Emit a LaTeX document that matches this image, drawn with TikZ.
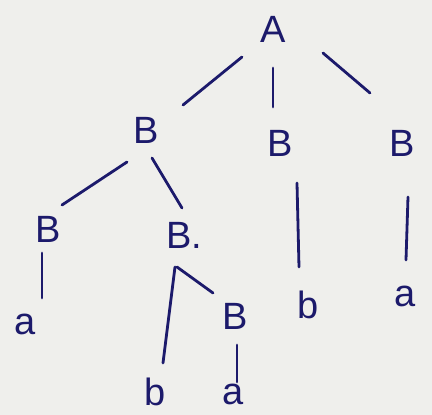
\documentclass[tikz,border=0pt]{standalone}
\usepackage{fontspec}
\setmainfont{Liberation Sans}
\usetikzlibrary{calc}
\definecolor{ink}{HTML}{1C1A6B}
\definecolor{paper}{HTML}{EFEFEC}
\begin{document}
\begin{tikzpicture}[x=1pt,y=-1pt,
  lbl/.style={text=ink,inner sep=0pt,font=\fontsize{38}{42}\selectfont},
  edge/.style={draw=ink,line width=2.8pt,line cap=round}]
\fill[paper] (0,0) rectangle (432,415);
\useasboundingbox (0,0) rectangle (432,415);
\node[lbl] (A)  at (273,29) {A};
\node[lbl] (B1) at (146,130) {B};
\node[lbl] (B2) at (280,143) {B};
\node[lbl] (B3) at (402,143) {B};
\node[lbl] (B4) at (48,229) {B};
\node[lbl] (B5) at (184,235) {B.};
\node[lbl] (a1) at (25,324) {a};
\node[lbl] (b2) at (308,305) {b};
\node[lbl] (a3) at (405,296) {a};
\node[lbl] (B6) at (235,316) {B};
\node[lbl] (b5) at (155,392) {b};
\node[lbl] (a6) at (233,394) {a};
\draw[edge] ($(A.center)+(-31,28)$) -- ($(B1.center)+(37,-25)$);
\draw[edge] ($(A.center)+(0,39)$) -- ($(B2.center)+(-7,-36)$);
\draw[edge] ($(A.center)+(50,24)$) -- ($(B3.center)+(-32,-50)$);
\draw[edge] ($(B1.center)+(-19,32)$) -- ($(B4.center)+(14,-24)$);
\draw[edge] ($(B1.center)+(6,28)$) -- ($(B5.center)+(-2,-27)$);
\draw[edge] ($(B2.center)+(17,40)$) -- ($(b2.center)+(-9,-38)$);
\draw[edge] ($(B3.center)+(6,54)$) -- ($(a3.center)+(1,-36)$);
\draw[edge] ($(B4.center)+(-6,24)$) -- ($(a1.center)+(17,-26)$);
\draw[edge] ($(B5.center)+(-9,32)$) -- ($(b5.center)+(8,-29)$);
\draw[edge] ($(B5.center)+(-7,32)$) -- ($(B6.center)+(-22,-23)$);
\draw[edge] ($(B6.center)+(2,29)$) -- ($(a6.center)+(4,-12)$);
\end{tikzpicture}
\end{document}
